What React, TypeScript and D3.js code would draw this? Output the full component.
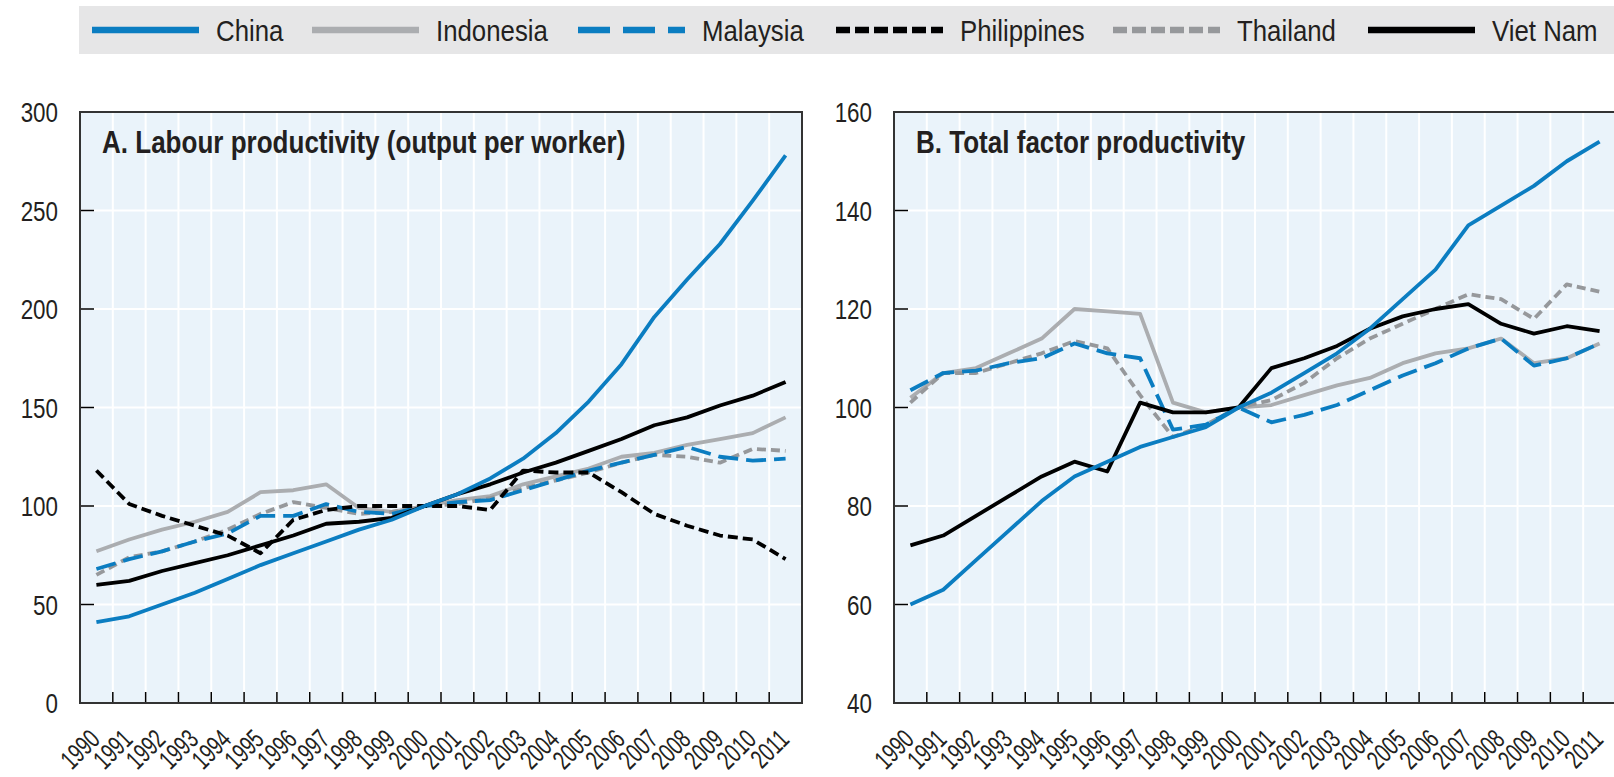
import * as d3 from 'd3'

// x categories
const years = ['1990', '1991', '1992', '1993', '1994', '1995', '1996', '1997', '1998', '1999', '2000',
  '2001', '2002', '2003', '2004', '2005', '2006', '2007', '2008', '2009', '2010', '2011']

// Panel A: labour productivity, index 2000 = 100
const lpChina = [41, 44, 50, 56, 63, 70, 76, 82, 88, 93, 100, 106, 114, 124, 137, 153, 172, 196, 215, 233, 255, 278]
const lpIndonesia = [77, 83, 88, 92, 97, 107, 108, 111, 99, 97, 100, 103, 105, 111, 115, 119, 125, 127, 131, 134, 137, 145]
const lpMalaysia = [68, 73, 77, 82, 86, 95, 95, 101, 97, 96, 100, 102, 103, 108, 113, 118, 122, 126, 130, 125, 123, 124]
const lpPhilippines = [118, 101, 95, 90, 85, 76, 93, 98, 100, 100, 100, 100, 98, 118, 117, 117, 107, 96, 90, 85, 83, 73]
const lpThailand = [65, 74, 77, 82, 88, 96, 102, 99, 96, 97, 100, 101, 104, 109, 113, 117, 122, 126, 125, 122, 129, 128]
const lpVietNam = [60, 62, 67, 71, 75, 80, 85, 91, 92, 94, 100, 106, 111, 117, 122, 128, 134, 141, 145, 151, 156, 163]

// Panel B: total factor productivity
const tfpChina = [60, 63, 69, 75, 81, 86, 89, 92, 94, 96, 100, 103, 107, 111, 116, 122, 128, 137, 141, 145, 150, 154]
const tfpIndonesia = [102, 107, 108, 111, 114, 120, 119.5, 119, 101, 99, 100, 100.5, 102.5, 104.5, 106, 109, 111, 112, 114, 109, 110, 113]
const tfpMalaysia = [103.5, 107, 107.5, 109, 110, 113, 111, 110, 95.5, 96.5, 100, 97, 98.5, 100.5, 103.5, 106.5, 109, 112, 114, 108.5, 110, 113]
const tfpThailand = [101, 107, 107, 109, 111, 113.5, 112, 102.5, 94, 96.5, 100, 101.5, 105, 110, 114, 117, 120, 123, 122, 118, 125, 123.5]
const tfpVietNam = [72, 74, 78, 82, 86, 89, 87, 101, 99, 99, 100, 108, 110, 112.5, 116, 118.5, 120, 121, 117, 115, 116.5, 115.5]

const ticksA = [0, 50, 100, 150, 200, 250, 300]
const ticksB = [40, 60, 80, 100, 120, 140, 160]

const BLUE = '#0B7DC1'
const LIGHT = '#ABADB0'
const MID = '#96989B'
const INK = '#231F20'
const FONT = 'Liberation Sans, Arial, sans-serif'

type Style = { name: string; color: string; dash?: string; legendDash?: string }
const styles: Record<string, Style> = {
  China: { name: 'China', color: BLUE },
  Indonesia: { name: 'Indonesia', color: LIGHT },
  Malaysia: { name: 'Malaysia', color: BLUE, dash: '20,8', legendDash: '32,13' },
  Philippines: { name: 'Philippines', color: '#000', dash: '10,5', legendDash: '14,5' },
  Thailand: { name: 'Thailand', color: MID, dash: '9,5', legendDash: '14,5' },
  VietNam: { name: 'Viet Nam', color: '#000' },
}

const legendX = [92, 312, 578, 836, 1113, 1368]
const legendKeys = ['China', 'Indonesia', 'Malaysia', 'Philippines', 'Thailand', 'VietNam']

const TOP = 112
const BOTTOM = 703
const W = 722

function NText(props: {
  x: number; y: number; sx?: number; size: number; anchor?: string; weight?: string; children: string
}) {
  const { x, y, sx = 1, size, anchor = 'start', weight = 'normal', children } = props
  return (
    <text
      transform={`translate(${x},${y}) scale(${sx},1)`}
      fontFamily={FONT}
      fontSize={size}
      fontWeight={weight}
      textAnchor={anchor}
      fill={INK}
    >
      {children}
    </text>
  )
}

function Panel(props: {
  left: number
  domain: [number, number]
  ticks: number[]
  title: string
  series: { key: string; values: number[] }[]
}) {
  const { left, domain, ticks, title, series } = props
  const x = d3.scaleBand().domain(years).range([left, left + W]).padding(0)
  const y = d3.scaleLinear().domain(domain).range([BOTTOM, TOP])
  const bw = x.bandwidth()
  const cx = (i: number) => (x(years[i]) as number) + bw / 2
  const line = d3
    .line<number>()
    .x((_, i) => cx(i))
    .y((d) => y(d))

  const inner = ticks.slice(1, -1)
  const bounds = years.slice(1).map((yr) => x(yr) as number)

  return (
    <g>
      <rect x={left} y={TOP} width={W} height={BOTTOM - TOP} fill="#EAF3FA" />
      {/* grid */}
      {bounds.map((bx, i) => (
        <line key={'gv' + i} x1={bx} x2={bx} y1={TOP} y2={BOTTOM} stroke="#fff" strokeWidth={2} />
      ))}
      {inner.map((t) => (
        <line key={'gh' + t} x1={left} x2={left + W} y1={y(t)} y2={y(t)} stroke="#fff" strokeWidth={2} />
      ))}
      {/* ticks */}
      {bounds.map((bx, i) => (
        <line key={'tx' + i} x1={bx} x2={bx} y1={BOTTOM} y2={BOTTOM - 11} stroke="#000" strokeWidth={1.5} />
      ))}
      {inner.map((t) => (
        <line key={'ty' + t} x1={left} x2={left + 14} y1={y(t)} y2={y(t)} stroke="#000" strokeWidth={1.5} />
      ))}
      {/* series */}
      {series.map((s) => {
        const st = styles[s.key]
        return (
          <path
            key={s.key}
            d={line(s.values) || ''}
            fill="none"
            stroke={st.color}
            strokeWidth={3.8}
            strokeDasharray={st.dash}
            strokeLinejoin="round"
          />
        )
      })}
      <rect x={left} y={TOP} width={W} height={BOTTOM - TOP} fill="none" stroke="#333" strokeWidth={2} />
      {/* y labels */}
      {ticks.map((t) => (
        <NText key={'yl' + t} x={left - 22} y={y(t) + 10} sx={0.8} size={28} anchor="end">
          {String(t)}
        </NText>
      ))}
      {/* x labels, rotated */}
      {years.map((yr, i) => (
        <text
          key={'xl' + yr}
          transform={`translate(${cx(i) + 5},741) rotate(-45) scale(0.7,1)`}
          fontFamily={FONT}
          fontSize={27}
          textAnchor="end"
          fill={INK}
        >
          {yr}
        </text>
      ))}
      <NText x={left + 22} y={153} sx={0.84} size={31} weight="bold">
        {title}
      </NText>
    </g>
  )
}

export default function App() {
  const panelA = [
    { key: 'Indonesia', values: lpIndonesia },
    { key: 'Thailand', values: lpThailand },
    { key: 'Malaysia', values: lpMalaysia },
    { key: 'Philippines', values: lpPhilippines },
    { key: 'VietNam', values: lpVietNam },
    { key: 'China', values: lpChina },
  ]
  const panelB = [
    { key: 'Indonesia', values: tfpIndonesia },
    { key: 'Thailand', values: tfpThailand },
    { key: 'Malaysia', values: tfpMalaysia },
    { key: 'VietNam', values: tfpVietNam },
    { key: 'China', values: tfpChina },
  ]

  return (
    <svg
      width={1614}
      height={777}
      style={{ position: 'absolute', left: 0, top: 0, background: '#fff' }}
    >
      {/* legend */}
      <rect x={79} y={6} width={1540} height={48} fill="#E6E6E7" />
      {legendKeys.map((k, i) => {
        const st = styles[k]
        const lx = legendX[i]
        return (
          <g key={k}>
            <line
              x1={lx}
              x2={lx + 107}
              y1={30}
              y2={30}
              stroke={st.color}
              strokeWidth={6.5}
              strokeDasharray={st.legendDash}
            />
            <NText x={lx + 124} y={41} sx={0.86} size={30}>
              {st.name}
            </NText>
          </g>
        )
      })}

      <Panel
        left={80}
        domain={[0, 300]}
        ticks={ticksA}
        title="A. Labour productivity (output per worker)"
        series={panelA}
      />
      <Panel
        left={894}
        domain={[40, 160]}
        ticks={ticksB}
        title="B. Total factor productivity"
        series={panelB}
      />
    </svg>
  )
}
